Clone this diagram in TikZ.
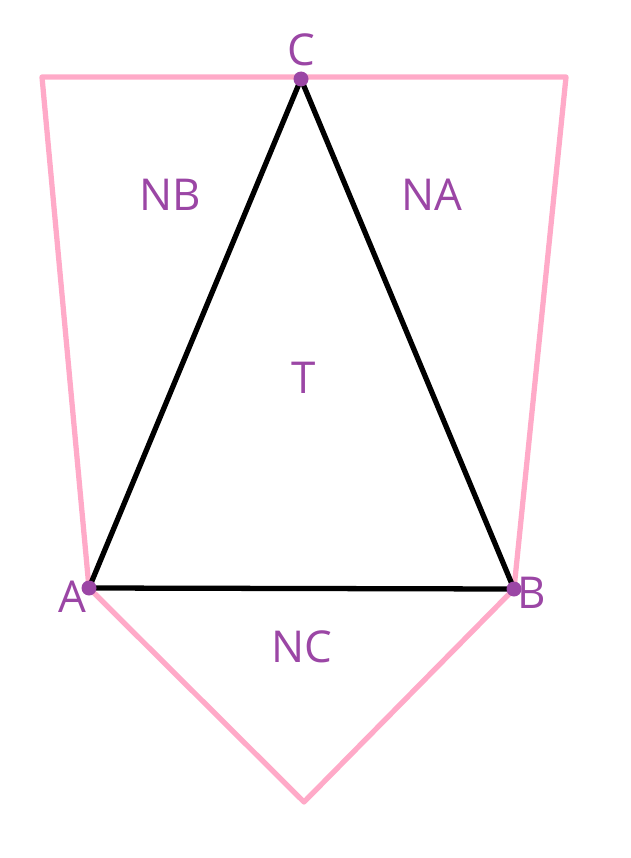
\documentclass[tikz,border=0pt]{standalone}
\usepackage{fontspec}
\setmainfont{Open Sans}
\definecolor{pinkline}{RGB}{255,170,200}
\definecolor{purp}{RGB}{155,70,165}
\begin{document}
\begin{tikzpicture}[x=0.02cm,y=-0.02cm,
  lbl/.style={text=purp,font=\fontsize{25}{30}\selectfont,inner sep=0pt},
  dot/.style={circle,fill=purp,inner sep=0pt,minimum size=0.3cm},
  pinkedge/.style={draw=pinkline,line width=3pt,line join=round},
  tri/.style={draw=black,line width=3pt,line join=round}]
\useasboundingbox (0,0) rectangle (630,858);
\coordinate (A) at (89,588);
\coordinate (B) at (514,589);
\coordinate (C) at (301,79);
\coordinate (TL) at (42,77);
\coordinate (TR) at (566,77);
\coordinate (Bot) at (304,802);
\draw[pinkedge] (A) -- (TL) -- (TR) -- (B) -- (Bot) -- cycle;
\draw[tri] (A) -- (B) -- (C) -- cycle;
\node[dot] (dA) at (A) {};
\node[dot] (dB) at (B) {};
\node[dot] (dC) at (C) {};
\node[lbl] (lC) at (301,50) {C};
\node[lbl] (lA) at (72,597) {A};
\node[lbl] (lB) at (532,593) {B};
\node[lbl] (lNB) at (170,195) {NB};
\node[lbl] (lNA) at (432,195) {NA};
\node[lbl] (lT) at (304,378) {T};
\node[lbl] (lNC) at (302,647) {NC};
\end{tikzpicture}
\end{document}
